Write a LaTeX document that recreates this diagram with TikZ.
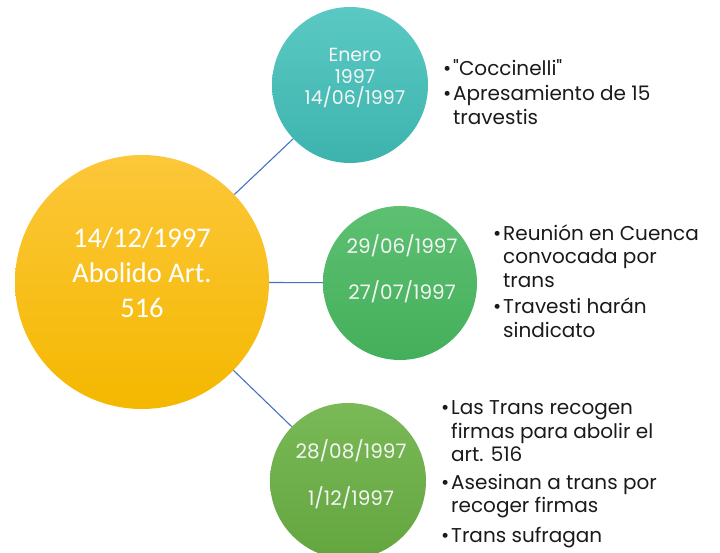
\documentclass[tikz,border=0pt]{standalone}
\usepackage{fontspec}
\setmainfont{Poppins}
\newfontfamily\hubfont{Carlito}
\usepackage{xcolor}

\definecolor{hubtop}{HTML}{FCC73A}
\definecolor{hubbot}{HTML}{F4B800}
\definecolor{tealtop}{HTML}{5BC9C3}
\definecolor{tealbot}{HTML}{3DB3AE}
\definecolor{midtop}{HTML}{5DC072}
\definecolor{midbot}{HTML}{44AF5A}
\definecolor{lowtop}{HTML}{79B957}
\definecolor{lowbot}{HTML}{63A53F}
\definecolor{linkblue}{HTML}{4472C4}
\definecolor{ink}{HTML}{1A1A1A}

\newcommand{\bl}{\makebox[10pt][l]{\textbullet}}
\newcommand{\ind}{\hspace*{10pt}}

\begin{document}
\begin{tikzpicture}[x=1pt,y=-1pt,
    disc/.style={circle, inner sep=0pt},
    hubtext/.style={align=center, inner sep=0pt, text=white, font=\hubfont\fontsize{28.5}{35}\selectfont},
    datetext/.style={align=center, inner sep=0pt, text=white!92!gray, font=\fontsize{20}{23}\selectfont},
    notes/.style={anchor=west, align=left, inner sep=0pt, text=ink, font=\fontsize{20}{23.5}\selectfont},
    link/.style={draw=linkblue, line width=1.1pt}]
            \useasboundingbox (0,0) rectangle (720,553);
            \node[disc, minimum size=254pt, top color=hubtop, bottom color=hubbot] (abolido) at (142,282) {};
            \node[disc, minimum size=156pt, top color=tealtop, bottom color=tealbot] (enero) at (350,85) {};
            \node[disc, minimum size=154pt, top color=midtop, bottom color=midbot] (cuenca) at (400,283) {};
            \node[disc, minimum size=156pt, top color=lowtop, bottom color=lowbot] (firmas) at (348,481) {};
            \node[hubtext] (abolidotexto) at ([yshift=9pt]abolido.center) {14/12/1997\\Abolido Art.\\516};
            \node[datetext, font=\fontsize{19}{21.5}\selectfont] (enerotexto) at ([xshift=5pt,yshift=7pt]enero.center) {Enero\\1997\\14/06/1997};
            \node[datetext] (cuencatexto) at ([xshift=2pt,yshift=14pt]cuenca.center) {29/06/1997\\[23pt]27/07/1997};
            \node[datetext] (firmastexto) at ([xshift=3pt,yshift=7pt]firmas.center) {28/08/1997\\[24pt]1/12/1997};
            \draw[link] (abolido) -- (enero);
            \draw[link] (abolido) -- (cuenca);
            \draw[link] (abolido) -- (firmas);
            \node[notes] (notasenero) at (443,92) {\bl\textquotedbl Coccinelli\textquotedbl\\[2pt]\bl Apresamiento de 15\\\ind travestis};
            \node[notes] (notascuenca) at (493,281) {\bl Reunión en Cuenca\\\ind convocada por\\\ind trans\\[3pt]\bl Travesti harán\\\ind sindicato};
            \node[notes] (notasfirmas) at (441,474) {\bl Las Trans recogen\\\ind firmas para abolir el\\\ind art. 516\\[4pt]\bl Asesinan a trans por\\\ind recoger firmas\\[6pt]\bl Trans sufragan};
        \end{tikzpicture}
\end{document}
